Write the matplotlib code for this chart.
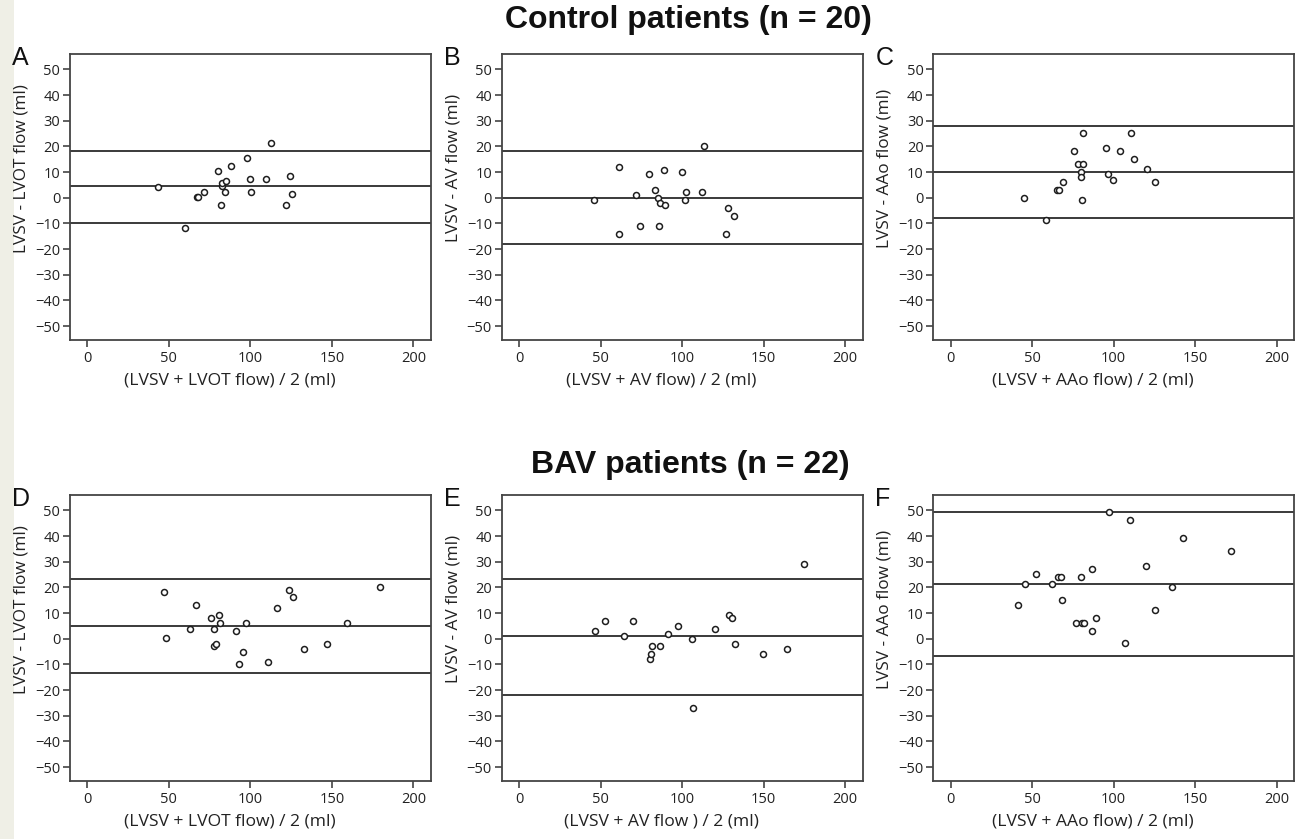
"""
Bland-Altman plots: LVSV vs flow measurements, control and BAV patients.
"""


# %%
import matplotlib.pyplot as plt
from matplotlib.patches import Rectangle


# %% data (mean of methods, difference)
a_mean = [43.1, 60.0, 67.0, 68.0, 71.3, 80.3, 81.7, 82.3, 82.7, 84.2,
          85.2, 88.2, 97.7, 99.7, 100.1, 109.7, 112.6, 121.8, 124.2, 125.6]
a_diff = [4.3, -11.8, 0.3, 0.3, 2.3, 10.4, -2.7, 4.6, 5.6, 2.2,
          6.4, 12.3, 15.3, 7.3, 2.3, 7.3, 21.4, -2.7, 8.3, 1.3]
a_lines = [18.4, 4.4, -9.7]

b_mean = [46.1, 61.0, 61.0, 71.8, 73.9, 79.8, 83.4, 85.3, 85.9, 86.3,
          88.7, 89.8, 100.2, 101.8, 102.4, 112.3, 113.3, 127.2, 128.2, 131.9]
b_diff = [-0.9, 12.0, -14.0, 1.0, -11.0, 9.1, 3.0, -0.1, -11.0, -2.1,
          11.0, -3.0, 10.1, -1.0, 2.1, 2.1, 20.1, -14.0, -4.0, -7.0]
b_lines = [18.2, 0.1, -17.9]

c_mean = [45.0, 58.3, 65.4, 66.4, 68.9, 75.8, 78.3, 81.3, 79.9, 79.9,
          80.4, 81.3, 95.5, 96.5, 99.4, 103.9, 110.4, 112.6, 120.4, 125.1]
c_diff = [0.1, -8.8, 3.1, 3.1, 6.2, 18.1, 13.1, 13.1, 10.1, 8.0,
          -0.8, 25.1, 19.2, 9.2, 7.1, 18.1, 25.1, 15.2, 11.1, 6.2]
c_lines = [28.0, 10.1, -7.9]

d_mean = [47.0, 48.0, 63.1, 66.4, 76.0, 77.4, 77.8, 79.1, 80.5, 81.1, 90.9,
          92.9, 95.4, 97.1, 110.6, 116.1, 123.4, 126.1, 133.1, 147.0, 159.3, 179.3]
d_diff = [18.1, 0.2, 4.0, 13.1, 8.1, -3.0, 4.0, -1.9, 9.1, 6.1, 3.1,
          -10.0, -5.0, 6.1, -9.0, 12.1, 19.1, 16.1, -3.9, -1.9, 6.1, 20.1]
d_lines = [23.1, 4.9, -13.2]

e_mean = [46.6, 52.5, 64.6, 69.7, 80.1, 81.1, 81.4, 86.6, 91.1, 97.6,
          106.0, 106.4, 120.1, 128.5, 130.4, 132.2, 149.4, 164.1, 174.8]
e_diff = [3.0, 7.0, 1.1, 7.0, -8.0, -6.1, -3.0, -3.0, 2.0, 5.1,
          0.0, -27.0, 4.0, 9.1, 8.1, -1.9, -6.0, -4.0, 29.1]
e_lines = [23.1, 1.0, -21.9]

f_mean = [41.3, 45.3, 52.3, 62.3, 65.8, 67.9, 68.5, 76.9, 79.9, 80.8, 81.8,
          86.5, 86.5, 88.9, 96.9, 106.9, 110.0, 119.8, 125.5, 136.0, 142.5, 172.0]
f_diff = [13.1, 21.2, 25.2, 21.2, 24.1, 24.1, 15.2, 6.1, 24.1, 6.1, 6.1,
          27.2, 3.1, 8.2, 49.2, -1.8, 46.2, 28.2, 11.2, 20.1, 39.2, 34.1]
f_lines = [49.2, 21.2, -6.6]

letters = ['A', 'B', 'C', 'D', 'E', 'F']
ylabels = ['LVSV - LVOT flow (ml)', 'LVSV - AV flow (ml)', 'LVSV - AAo flow (ml)',
           'LVSV - LVOT flow (ml)', 'LVSV - AV flow (ml)', 'LVSV - AAo flow (ml)']
xlabels = ['(LVSV + LVOT flow) / 2 (ml)', '(LVSV + AV flow) / 2 (ml)',
           '(LVSV + AAo flow) / 2 (ml)', '(LVSV + LVOT flow) / 2 (ml)',
           '(LVSV + AV flow ) / 2 (ml)', '(LVSV + AAo flow) / 2 (ml)']
titles = ['Control patients (n = 20)', 'BAV patients (n = 22)']

panels = [(a_mean, a_diff, a_lines), (b_mean, b_diff, b_lines), (c_mean, c_diff, c_lines),
          (d_mean, d_diff, d_lines), (e_mean, e_diff, e_lines), (f_mean, f_diff, f_lines)]


# %% layout (figure fractions)
W, H = 1301, 839
colLeft = [70, 501.7, 933.3]   # px
rowTop = [54, 495]             # px
axW, axH = 361, 286            # px
txt = '#222222'
lineCol = '#3a3a3a'

plt.rcParams['font.family'] = 'Open Sans'
plt.rcParams['font.size'] = 10.5

fig = plt.figure(figsize=(W / 100, H / 100), dpi=100)
fig.patches.append(Rectangle((0, 0), 14 / W, 1, transform=fig.transFigure,
                             facecolor='#efefe6', edgecolor='none', zorder=-5))

for k, (xv, yv, hl) in enumerate(panels):
    r, c = divmod(k, 3)
    ax = fig.add_axes([colLeft[c] / W, 1 - (rowTop[r] + axH) / H, axW / W, axH / H])

    for v in hl:
        ax.axhline(v, color=lineCol, lw=1.4, zorder=1)
    ax.plot(xv, yv, 'o', ms=4.3, mfc='white', mec='#1e1e1e', mew=1.1, zorder=3)

    ax.set_xlim(-10.7, 210.8)
    ax.set_ylim(-55.4, 56)
    ax.set_xticks(range(0, 201, 50))
    ax.set_yticks(range(-50, 51, 10))
    ax.tick_params(direction='out', length=5, width=1.2, color='#444444',
                   labelcolor=txt, labelsize=10.5)
    ax.tick_params(axis='y', pad=2)
    ax.tick_params(axis='x', pad=3)
    for s in ax.spines.values():
        s.set_color('#444444')
        s.set_linewidth(1.3)

    ax.set_ylabel(ylabels[k], fontsize=12.4, color=txt)
    ax.yaxis.set_label_coords(-0.112, 0.6)
    ax.set_xlabel(xlabels[k], fontsize=12.6, color=txt)
    ax.xaxis.set_label_coords(0.443, -0.112)

    fig.text((colLeft[c] - 58) / W, 1 - (rowTop[r] - 8) / H, letters[k],
             fontsize=18, family='Liberation Sans', color='#111111', ha='left', va='top')

fig.text(688 / W, 1 - 20 / H, titles[0], fontsize=23, fontweight='bold',
         family='Liberation Sans', ha='center', va='center', color='#111111')
fig.text(690 / W, 1 - 465 / H, titles[1], fontsize=23, fontweight='bold',
         family='Liberation Sans', ha='center', va='center', color='#111111')

fig.savefig('out.png', dpi=100)
